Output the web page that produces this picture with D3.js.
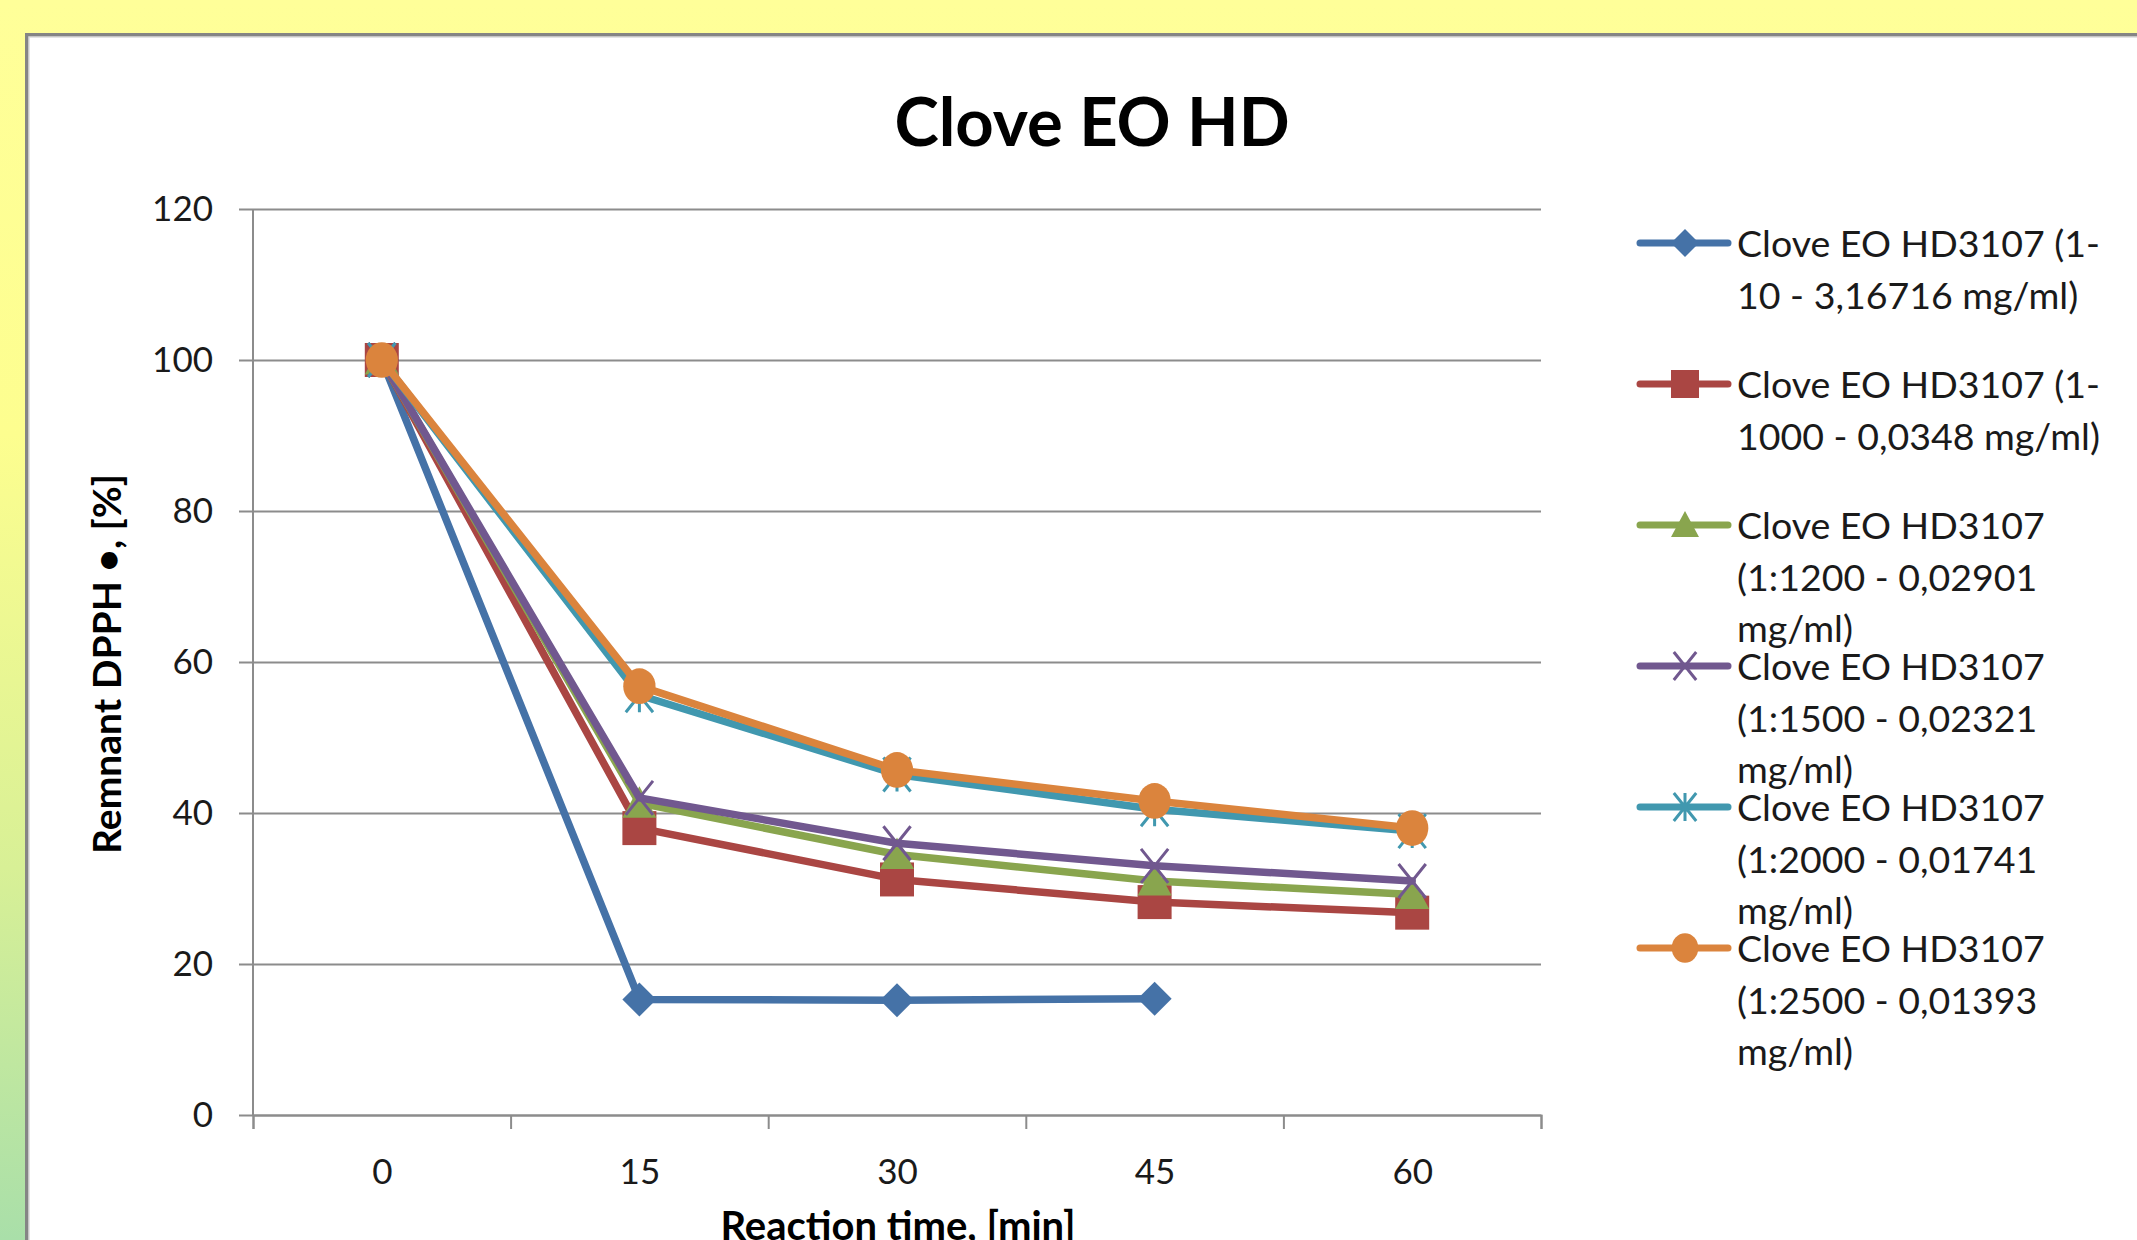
<!DOCTYPE html>
<html>
<head>
<meta charset="utf-8">
<script src="https://cdn.jsdelivr.net/npm/d3@7"></script>
<style>
  body { margin: 0; overflow: hidden; }
  svg { display: block; font-family: Lato, "Open Sans", sans-serif; }
</style>
</head>
<body>
<div id="chart"></div>
<script>
// ---- data ----
const times = ['0', '15', '30', '45', '60'];
const yTicks = [0, 20, 40, 60, 80, 100, 120];

const blueVals   = [100, 15.3, 15.2, 15.4, null];
const redVals    = [100, 38.0, 31.2, 28.2, 26.8];
const greenVals  = [100, 41.3, 34.5, 31.0, 29.2];
const purpleVals = [100, 42.0, 36.0, 33.0, 31.0];
const cyanVals   = [100, 55.6, 45.1, 40.5, 37.6];
const orangeVals = [100, 56.8, 45.7, 41.6, 38.0];

const seriesNames = [
  ['Clove EO HD3107 (1-', '10 - 3,16716 mg/ml)'],
  ['Clove EO HD3107 (1-', '1000 - 0,0348 mg/ml)'],
  ['Clove EO HD3107', '(1:1200 - 0,02901', 'mg/ml)'],
  ['Clove EO HD3107', '(1:1500 - 0,02321', 'mg/ml)'],
  ['Clove EO HD3107', '(1:2000 - 0,01741', 'mg/ml)'],
  ['Clove EO HD3107', '(1:2500 - 0,01393', 'mg/ml)']
];
const seriesColors = ['#4572A7', '#AA4643', '#89A54E', '#71588F', '#4198AF', '#DB843D'];
const seriesMarkers = ['diamond', 'square', 'triangle', 'x', 'star', 'circle'];

const series = [blueVals, redVals, greenVals, purpleVals, cyanVals, orangeVals].map((vals, i) => ({
  name: seriesNames[i], color: seriesColors[i], marker: seriesMarkers[i], values: vals
}));

// ---- layout ----
const W = 2137, H = 1240;
const plot = { left: 253, right: 1541, top: 209, bottom: 1115 };

const svg = d3.select('#chart').append('svg')
  .attr('width', W)
  .attr('height', H);

const defs = svg.append('defs');
const grad = defs.append('linearGradient')
  .attr('id', 'bg').attr('x1', 0).attr('y1', 0).attr('x2', 0).attr('y2', 1);
grad.append('stop').attr('offset', '0%').attr('stop-color', '#ffff99');
grad.append('stop').attr('offset', '35%').attr('stop-color', '#fdfe8f');
grad.append('stop').attr('offset', '70%').attr('stop-color', '#d8f096');
grad.append('stop').attr('offset', '100%').attr('stop-color', '#a9dfa9');

svg.append('rect').attr('width', W).attr('height', H).attr('fill', 'url(#bg)');

// chart panel
svg.append('rect')
  .attr('x', 27).attr('y', 35)
  .attr('width', W + 50).attr('height', H + 50)
  .attr('fill', '#fff')
  .attr('stroke', '#858585')
  .attr('stroke-width', 4);
svg.append('rect')
  .attr('x', 29).attr('y', 37)
  .attr('width', W + 50).attr('height', H + 50)
  .attr('fill', 'none')
  .attr('stroke', '#dcdcdc')
  .attr('stroke-width', 1.5);

// ---- scales ----
const x = d3.scalePoint().domain(times).range([plot.left, plot.right]).padding(0.5);
const xEdges = d3.scaleLinear().domain([0, times.length]).range([plot.left, plot.right]);
const y = d3.scaleLinear().domain([0, 120]).range([plot.bottom, plot.top]);

// gridlines + y axis ticks
const yAxis = svg.append('g')
  .attr('transform', `translate(${plot.left},0)`)
  .call(d3.axisLeft(y).tickValues(yTicks).tickSize(-(plot.right - plot.left)).tickPadding(40).tickFormat(d3.format('d')));
yAxis.select('.domain').remove();
yAxis.selectAll('.tick line')
  .attr('x1', -14)
  .attr('stroke', '#8c8c8c')
  .attr('stroke-width', 2);
yAxis.selectAll('.tick text')
  .attr('font-size', 35)
  .attr('fill', '#1a1a1a')
  .attr('font-family', 'Lato, sans-serif');

// y axis line
svg.append('line')
  .attr('x1', plot.left).attr('x2', plot.left)
  .attr('y1', plot.top).attr('y2', plot.bottom)
  .attr('stroke', '#8c8c8c').attr('stroke-width', 2);

// x axis: tick marks at category edges, labels at centres
const xTickAxis = svg.append('g')
  .attr('transform', `translate(0,${plot.bottom})`)
  .call(d3.axisBottom(xEdges).ticks(times.length).tickSize(14).tickFormat(''));
xTickAxis.select('.domain').attr('stroke', '#8c8c8c').attr('stroke-width', 2);
xTickAxis.selectAll('.tick line').attr('stroke', '#8c8c8c').attr('stroke-width', 2);

const xLabelAxis = svg.append('g')
  .attr('transform', `translate(0,${plot.bottom})`)
  .call(d3.axisBottom(x).tickSize(0).tickPadding(44));
xLabelAxis.select('.domain').remove();
xLabelAxis.selectAll('.tick text')
  .attr('font-size', 35)
  .attr('fill', '#1a1a1a')
  .attr('font-family', 'Lato, sans-serif');

// ---- titles ----
svg.append('text')
  .attr('x', 1092).attr('y', 146)
  .attr('text-anchor', 'middle')
  .attr('font-size', 67)
  .attr('font-weight', 'bold')
  .attr('fill', '#000')
  .text('Clove EO HD');

svg.append('text')
  .attr('transform', 'translate(121,664) rotate(-90)')
  .attr('text-anchor', 'middle')
  .attr('font-size', 39)
  .attr('font-weight', 'bold')
  .attr('fill', '#000')
  .text('Remnant DPPH •, [%]');

svg.append('text')
  .attr('x', 898).attr('y', 1240)
  .attr('text-anchor', 'middle')
  .attr('font-size', 40)
  .attr('font-weight', 'bold')
  .attr('fill', '#000')
  .text('Reaction time, [min]');

// ---- markers ----
function drawMarker(g, type, color, s) {
  // s = half size
  if (type === 'diamond') {
    g.append('path').attr('d', `M0,${-s}L${s},0L0,${s}L${-s},0Z`).attr('fill', color);
  } else if (type === 'square') {
    g.append('rect').attr('x', -s).attr('y', -s).attr('width', 2 * s).attr('height', 2 * s).attr('fill', color);
  } else if (type === 'triangle') {
    g.append('path').attr('d', `M0,${-s}L${s},${s * 0.85}L${-s},${s * 0.85}Z`).attr('fill', color);
  } else if (type === 'circle') {
    g.append('ellipse').attr('rx', s * 0.95).attr('ry', s * 1.05).attr('fill', color);
  } else if (type === 'x' || type === 'star') {
    const a = s * 0.8;
    g.append('path')
      .attr('d', `M${-a},${-s}L${a},${s}M${a},${-s}L${-a},${s}` + (type === 'star' ? `M0,${-s}L0,${s}` : ''))
      .attr('stroke', color).attr('stroke-width', 3).attr('fill', 'none');
  }
}

// ---- series ----
const line = d3.line()
  .defined(d => d.v != null)
  .x(d => x(d.t))
  .y(d => y(d.v));

series.forEach(s => {
  const pts = s.values.map((v, i) => ({ t: times[i], v }));
  const g = svg.append('g');
  g.append('path')
    .datum(pts)
    .attr('d', line)
    .attr('fill', 'none')
    .attr('stroke', s.color)
    .attr('stroke-width', 7.5)
    .attr('stroke-linejoin', 'round')
    .attr('stroke-linecap', 'round');
  pts.filter(d => d.v != null).forEach(d => {
    const m = g.append('g').attr('transform', `translate(${x(d.t)},${y(d.v)})`);
    drawMarker(m, s.marker, s.color, 17);
  });
});

// ---- legend ----
const legend = svg.append('g');
series.forEach((s, i) => {
  const ly = 243 + i * 141;
  const g = legend.append('g').attr('transform', `translate(0,${ly})`);
  g.append('line')
    .attr('x1', 1640).attr('x2', 1728)
    .attr('stroke', s.color)
    .attr('stroke-width', 7)
    .attr('stroke-linecap', 'round');
  const m = g.append('g').attr('transform', 'translate(1685,0)');
  drawMarker(m, s.marker, s.color, 14);
  const t = g.append('text')
    .attr('x', 1737).attr('y', 14)
    .attr('font-size', 37.5)
    .attr('fill', '#1a1a1a');
  s.name.forEach((ln, j) => {
    t.append('tspan').attr('x', 1737).attr('dy', j === 0 ? 0 : 51.5).text(ln);
  });
});
</script>
</body>
</html>
